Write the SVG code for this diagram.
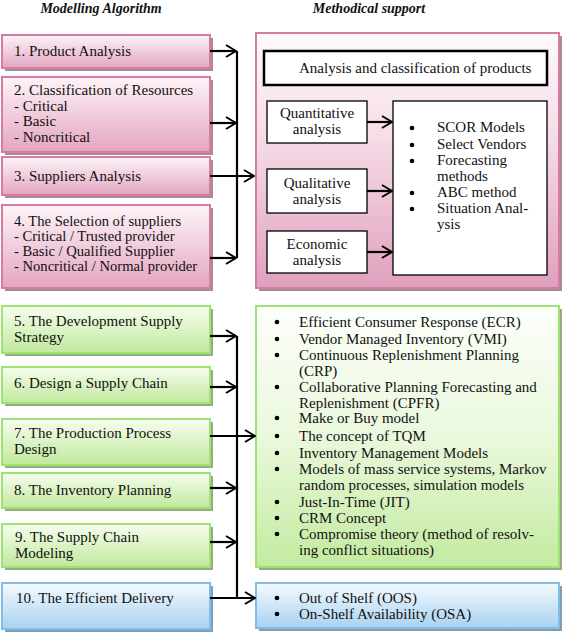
<svg xmlns="http://www.w3.org/2000/svg" width="563" height="634" viewBox="0 0 563 634" font-family="Liberation Serif, Times New Roman, serif">
<defs>
<linearGradient id="gP" x1="0" y1="0" x2="0" y2="1"><stop offset="0" stop-color="#fdf4f8"/><stop offset="1" stop-color="#e4a5c1"/></linearGradient>
<linearGradient id="gG" x1="0" y1="0" x2="0" y2="1"><stop offset="0" stop-color="#f7fdef"/><stop offset="1" stop-color="#c0e99c"/></linearGradient>
<linearGradient id="gB" x1="0" y1="0" x2="0" y2="1"><stop offset="0" stop-color="#f5fafe"/><stop offset="1" stop-color="#a8d2f0"/></linearGradient>
<linearGradient id="gPB" x1="0" y1="0" x2="0" y2="1"><stop offset="0" stop-color="#fefafc"/><stop offset="0.4" stop-color="#f6dde8"/><stop offset="1" stop-color="#e0a0bd"/></linearGradient>
<linearGradient id="gGB" x1="0" y1="0" x2="0" y2="1"><stop offset="0" stop-color="#fdfffb"/><stop offset="0.5" stop-color="#eaf8dc"/><stop offset="1" stop-color="#c3eba0"/></linearGradient>
<marker id="ah" markerWidth="12" markerHeight="14" refX="11" refY="7" orient="auto" markerUnits="userSpaceOnUse">
<path d="M1,1 L11,7 L1,13" fill="none" stroke="#000" stroke-width="2"/>
</marker>
</defs>
<style>
text{font-family:"Liberation Serif","Times New Roman",serif;font-size:15px;fill:#111}
.t{font-weight:bold;font-style:italic;font-size:14px}
.r{font-size:15px}
.p{fill:url(#gP);stroke:#d67ca3;stroke-width:2}
.g{fill:url(#gG);stroke:#a0e173;stroke-width:2}
.b{fill:url(#gB);stroke:#80bee9;stroke-width:2}
.sp{fill:#a88a98}
.sg{fill:#93ad80}
.sb{fill:#7f9db6}
.w{fill:#fff;stroke:#000;stroke-width:1.3}
.c{fill:none;stroke:#000;stroke-width:2.2}
</style>
<text class="t" x="101" y="13" text-anchor="middle">Modelling Algorithm</text>
<text class="t" x="369" y="13" text-anchor="middle">Methodical support</text>

<g id="n1"><rect class="sp" x="5" y="38" width="208" height="33"/><rect class="p" x="2" y="35" width="208" height="33"/><text x="14" y="56">1. Product Analysis</text></g>
<g id="n2"><rect class="sp" x="5" y="80" width="208" height="75"/><rect class="p" x="2" y="77" width="208" height="75"/><text x="14" y="95">2. Classification of Resources</text><text x="14" y="111">- Critical</text><text x="14" y="126">- Basic</text><text x="14" y="142">- Noncritical</text></g>
<g id="n3"><rect class="sp" x="5" y="160" width="208" height="38"/><rect class="p" x="2" y="157" width="208" height="38"/><text x="14" y="181">3. Suppliers Analysis</text></g>
<g id="n4" font-size="14.6"><rect class="sp" x="5" y="208" width="208" height="83"/><rect class="p" x="2" y="205" width="208" height="83"/><text x="14" y="226" style="font-size:14.6px">4. The Selection of suppliers</text><text x="14" y="241" style="font-size:14.6px">- Critical / Trusted provider</text><text x="14" y="256" style="font-size:14.6px">- Basic / Qualified Supplier</text><text x="14" y="271" style="font-size:14.6px">- Noncritical / Normal provider</text></g>

<g id="m1">
<rect class="sp" x="259" y="36" width="303" height="255"/>
<rect class="p" x="256" y="33" width="303" height="255" style="fill:url(#gPB)"/>
<rect x="264" y="51" width="283" height="34" fill="#fff" stroke="#000" stroke-width="2.5"/>
<text class="r" x="299" y="73">Analysis and classification of products</text>
<rect class="w" x="267" y="101" width="100" height="42"/><text class="r" x="317" y="118" text-anchor="middle">Quantitative</text><text class="r" x="317" y="134" text-anchor="middle">analysis</text>
<rect class="w" x="267" y="169" width="100" height="44"/><text class="r" x="317" y="188" text-anchor="middle">Qualitative</text><text class="r" x="317" y="204" text-anchor="middle">analysis</text>
<rect class="w" x="267" y="231" width="100" height="42"/><text class="r" x="317" y="249" text-anchor="middle">Economic</text><text class="r" x="317" y="265" text-anchor="middle">analysis</text>
<rect class="w" x="393" y="101" width="154" height="174"/>
<circle cx="412" cy="128" r="2.3"/><text class="r" x="437" y="132">SCOR Models</text>
<circle cx="412" cy="145" r="2.3"/><text class="r" x="437" y="149">Select Vendors</text>
<circle cx="412" cy="161" r="2.3"/><text class="r" x="437" y="165">Forecasting</text>
<text class="r" x="437" y="181">methods</text>
<circle cx="412" cy="193" r="2.3"/><text class="r" x="437" y="197">ABC method</text>
<circle cx="412" cy="209" r="2.3"/><text class="r" x="437" y="213">Situation Anal-</text>
<text class="r" x="437" y="229">ysis</text>
<path class="c" d="M367,122 H392" marker-end="url(#ah)"/>
<path class="c" d="M367,191 H392" marker-end="url(#ah)"/>
<path class="c" d="M367,252 H392" marker-end="url(#ah)"/>
</g>

<g id="n5"><rect class="sg" x="5" y="309" width="208" height="47"/><rect class="g" x="2" y="306" width="208" height="47"/><text x="14" y="326">5. The Development Supply</text><text x="14" y="342">Strategy</text></g>
<g id="n6"><rect class="sg" x="5" y="370" width="208" height="36"/><rect class="g" x="2" y="367" width="208" height="36"/><text x="14" y="388">6. Design a Supply Chain</text></g>
<g id="n7"><rect class="sg" x="5" y="422" width="208" height="46"/><rect class="g" x="2" y="419" width="208" height="46"/><text x="14" y="438">7. The Production Process</text><text x="14" y="454">Design</text></g>
<g id="n8"><rect class="sg" x="5" y="476" width="208" height="35"/><rect class="g" x="2" y="473" width="208" height="35"/><text x="14" y="495">8. The Inventory Planning</text></g>
<g id="n9"><rect class="sg" x="5" y="527" width="208" height="43"/><rect class="g" x="2" y="524" width="208" height="43"/><text x="15" y="542">9. The Supply Chain</text><text x="15" y="558">Modeling</text></g>
<g id="n10"><rect class="sb" x="5" y="586" width="208" height="46"/><rect class="b" x="2" y="583" width="208" height="46"/><text x="16" y="603">10. The Efficient Delivery</text></g>

<g id="m2">
<rect class="sg" x="259" y="309" width="303" height="261"/>
<rect class="g" x="256" y="306" width="303" height="261" style="fill:url(#gGB)"/>
<circle cx="277" cy="322" r="2.3"/><text class="r" x="299" y="327">Efficient Consumer Response (ECR)</text>
<circle cx="277" cy="339" r="2.3"/><text class="r" x="299" y="344">Vendor Managed Inventory (VMI)</text>
<circle cx="277" cy="355" r="2.3"/><text class="r" x="299" y="360">Continuous Replenishment Planning</text>
<text class="r" x="299" y="376">(CRP)</text>
<circle cx="277" cy="387" r="2.3"/><text class="r" x="299" y="392">Collaborative Planning Forecasting and</text>
<text class="r" x="299" y="408">Replenishment (CPFR)</text>
<circle cx="277" cy="418" r="2.3"/><text class="r" x="299" y="423">Make or Buy model</text>
<circle cx="277" cy="436" r="2.3"/><text class="r" x="299" y="441">The concept of TQM</text>
<circle cx="277" cy="453" r="2.3"/><text class="r" x="299" y="458">Inventory Management Models</text>
<circle cx="277" cy="469" r="2.3"/><text class="r" x="299" y="474">Models of mass service systems, Markov</text>
<text class="r" x="299" y="490">random processes, simulation models</text>
<circle cx="277" cy="502" r="2.3"/><text class="r" x="299" y="507">Just-In-Time (JIT)</text>
<circle cx="277" cy="518" r="2.3"/><text class="r" x="299" y="523">CRM Concept</text>
<circle cx="277" cy="534" r="2.3"/><text class="r" x="299" y="539">Compromise theory (method of resolv-</text>
<text class="r" x="299" y="555">ing conflict situations)</text>
</g>

<g id="m3">
<rect class="sb" x="259" y="586" width="303" height="45"/>
<rect class="b" x="256" y="583" width="303" height="45"/>
<circle cx="277" cy="598" r="2.3"/><text class="r" x="299" y="603">Out of Shelf (OOS)</text>
<circle cx="277" cy="614" r="2.3"/><text class="r" x="299" y="619">On-Shelf Availability (OSA)</text>
</g>

<g id="connectors">
<path class="c" d="M237,51 V258"/>
<path class="c" d="M210,51 H236" marker-end="url(#ah)"/>
<path class="c" d="M210,123 H236" marker-end="url(#ah)"/>
<path class="c" d="M210,176 H254" marker-end="url(#ah)"/>
<path class="c" d="M210,258 H236" marker-end="url(#ah)"/>
<path class="c" d="M237,336 V598"/>
<path class="c" d="M210,336 H236" marker-end="url(#ah)"/>
<path class="c" d="M210,387 H236" marker-end="url(#ah)"/>
<path class="c" d="M210,436 H255" marker-end="url(#ah)"/>
<path class="c" d="M210,488 H236" marker-end="url(#ah)"/>
<path class="c" d="M210,542 H236" marker-end="url(#ah)"/>
<path class="c" d="M210,598 H255" marker-end="url(#ah)"/>
</g>
</svg>
